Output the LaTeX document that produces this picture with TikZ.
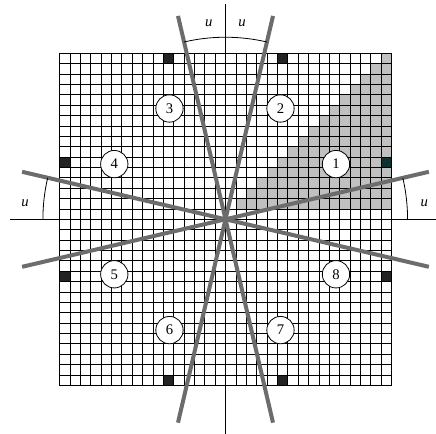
\documentclass[tikz,border=0pt]{standalone}
\usepackage{fontspec}
\setmainfont{Liberation Serif}
\definecolor{cellgray}{HTML}{C0C0C0}
\definecolor{blk}{HTML}{232323}
\definecolor{tealblk}{HTML}{0E3232}
\definecolor{linegray}{HTML}{6C6C6C}
\tikzset{
  gridline/.style={black, line width=0.55pt},
  axisline/.style={black, line width=0.6pt},
  sector/.style={draw=linegray, line width=3pt},
  anglearc/.style={black, line width=0.6pt},
  numcirc/.style={circle, draw=black, line width=0.6pt, fill=white, minimum size=20.5pt, inner sep=0pt, font=\fontsize{11}{13}\selectfont},
  ulabel/.style={font=\fontsize{11}{13}\selectfont\itshape, inner sep=0pt}
}
\begin{document}
\begin{tikzpicture}[x=7.78125pt, y=7.78125pt]
\useasboundingbox (-21.735,-20.694) rectangle (20.289,21.137);
% shaded staircase
\foreach \j in {1,...,15} {
  \fill[cellgray] (\j,\j) rectangle (16,\j+1);
}
% dark marker cells
\fill[blk] (-6,15) rectangle (-5,16);
\fill[blk] (5,15) rectangle (6,16);
\fill[blk] (-16,5) rectangle (-15,6);
\fill[blk] (-16,-6) rectangle (-15,-5);
\fill[tealblk] (15,5) rectangle (16,6);
\fill[blk] (15,-6) rectangle (16,-5);
\fill[blk] (-6,-16) rectangle (-5,-15);
\fill[blk] (5,-16) rectangle (6,-15);
% grid
\foreach \i in {-16,...,16} {
  \draw[gridline] (\i,-16) -- (\i,16);
  \draw[gridline] (-16,\i) -- (16,\i);
}
% axes
\coordinate (O) at (0,0);
\coordinate (axT) at (0,20.75);
\coordinate (axB) at (0,-20.694);
\coordinate (axL) at (-20.77,0);
\coordinate (axR) at (20.289,0);
\draw[axisline] (axT) -- (axB);
\draw[axisline] (axL) -- (axR);
% sector boundary lines
\coordinate (l1a) at (76.85:20.13);
\coordinate (l1b) at (256.85:20.13);
\coordinate (l2a) at (103.15:20.13);
\coordinate (l2b) at (283.15:20.13);
\coordinate (l3a) at (13.15:20.13);
\coordinate (l3b) at (193.15:20.13);
\coordinate (l4a) at (166.85:20.13);
\coordinate (l4b) at (346.85:20.13);
\draw[sector] (l1a) -- (l1b);
\draw[sector] (l2a) -- (l2b);
\draw[sector] (l3a) -- (l3b);
\draw[sector] (l4a) -- (l4b);
% angle arcs
\draw[anglearc] (103.15:17.55) arc[start angle=103.15, end angle=76.85, radius=17.55];
\draw[anglearc] (180:17.6) arc[start angle=180, end angle=166.85, radius=17.6];
\draw[anglearc] (0:17.55) arc[start angle=0, end angle=13.15, radius=17.55];
% u labels
\node[ulabel] (uT1) at (-1.62,18.9) {u};
\node[ulabel] (uT2) at (1.6,18.9) {u};
\node[ulabel] (uL) at (-19.33,1.55) {u};
\node[ulabel] (uR) at (19.15,1.55) {u};
% numbered circles
\node[numcirc] (c1) at (10.65,5.32) {1};
\node[numcirc] (c2) at (5.3,10.68) {2};
\node[numcirc] (c3) at (-5.4,10.68) {3};
\node[numcirc] (c4) at (-10.72,5.32) {4};
\node[numcirc] (c5) at (-10.72,-5.3) {5};
\node[numcirc] (c6) at (-5.4,-10.68) {6};
\node[numcirc] (c7) at (5.3,-10.68) {7};
\node[numcirc] (c8) at (10.65,-5.3) {8};
\end{tikzpicture}
\end{document}
